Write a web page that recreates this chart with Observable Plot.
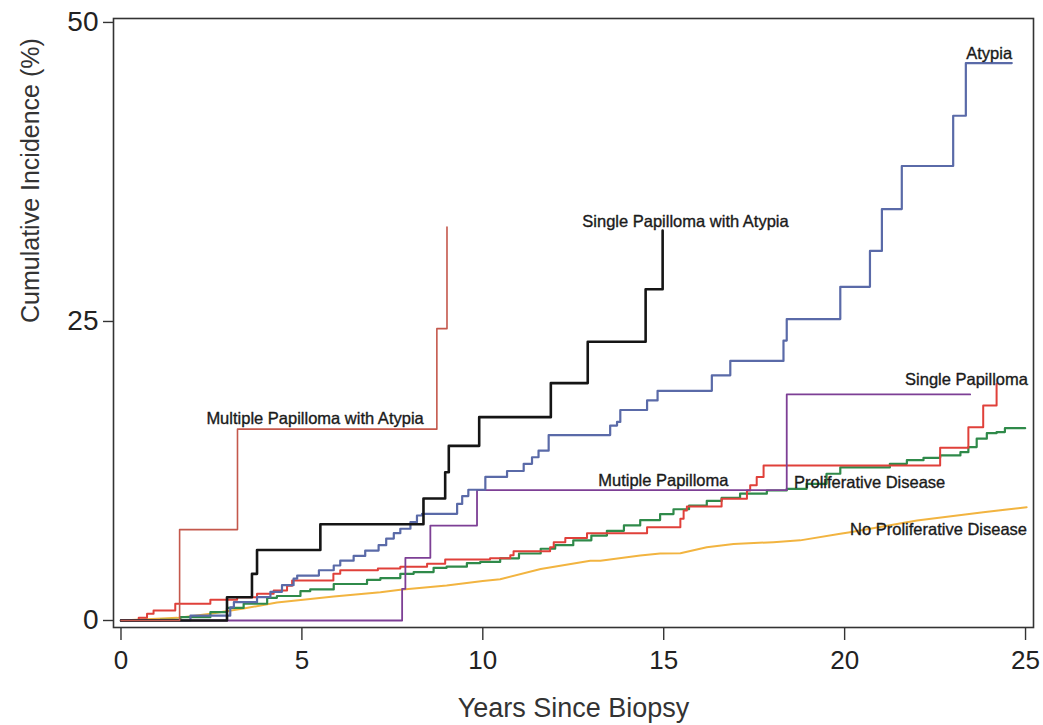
<!DOCTYPE html>
<html>
<head>
<meta charset="utf-8">
<script src="https://cdn.jsdelivr.net/npm/d3@7"></script>
<script src="https://cdn.jsdelivr.net/npm/@observablehq/plot@0.6"></script>
<style>
  html, body { margin: 0; padding: 0; background: #fff; }
  #chart svg { display: block; }
</style>
</head>
<body>
<div id="chart"></div>
<script>
// ---- Data (years since biopsy, cumulative incidence %) ----
const xTicks = [0, 5, 10, 15, 20, 25];
const yTicks = [0, 25, 50];

const mpwaYears = [0, 1.62, 3.22, 8.73, 9.01];
const mpwaPct   = [0, 7.6, 16.0, 24.4, 32.9];

const spwaYears = [0, 2.93, 3.62, 3.76, 5.51, 8.36, 8.96, 9.06, 9.9, 11.88, 12.9, 14.5, 14.97];
const spwaPct   = [0, 1.95, 3.9, 5.9, 8.05, 10.2, 12.4, 14.6, 17.0, 19.85, 23.3, 27.7, 32.6];

const atypiaYears = [0, 1.92, 3.02, 3.12, 3.76, 4.13, 4.45, 4.77, 4.87, 5.47, 5.88, 6.06, 6.43, 6.75, 7.12, 7.33, 7.54, 7.72, 8.0, 8.18, 8.32, 9.29, 9.43, 9.6, 10.07, 10.67, 11.13, 11.36, 11.54, 11.82, 13.52, 13.71, 13.8, 14.54, 14.83, 16.33, 16.84, 18.31, 18.4, 19.88, 20.7, 21.03, 21.58, 23.0, 23.35, 24.62];
const atypiaPct   = [0, 0.4, 1.1, 1.53, 1.95, 2.4, 2.95, 3.5, 3.76, 4.2, 4.6, 5.0, 5.4, 5.85, 6.3, 6.85, 7.3, 7.67, 8.22, 8.78, 8.92, 9.75, 10.4, 10.93, 12.0, 12.5, 13.1, 13.65, 14.2, 15.5, 16.3, 16.6, 17.6, 18.4, 19.2, 20.5, 21.7, 23.4, 25.2, 27.9, 30.9, 34.4, 38.0, 42.2, 46.6, 46.6];

const spYears = [0, 0.49, 0.72, 0.9, 1.5, 2.47, 3.21, 3.76, 4.22, 4.59, 4.73, 5.87, 6.06, 7.1, 7.72, 8.46, 8.96, 10.2, 10.76, 10.85, 11.86, 11.96, 12.28, 12.88, 14.54, 15.46, 15.55, 15.64, 16.6, 17.3, 17.39, 17.57, 17.76, 22.64, 23.42, 23.83, 24.2];
const spPct   = [0, 0.22, 0.56, 0.84, 1.4, 1.73, 1.95, 2.23, 2.5, 2.9, 3.35, 3.9, 4.2, 4.35, 4.5, 4.74, 5.1, 5.2, 5.45, 5.8, 6.13, 6.55, 6.9, 7.3, 7.8, 8.5, 9.2, 9.53, 10.17, 10.87, 11.3, 12.0, 12.96, 14.44, 16.16, 17.98, 19.8];

const mpYears = [0, 7.77, 7.86, 8.55, 9.84, 18.4, 23.47];
const mpPct   = [0, 2.65, 5.24, 7.94, 10.9, 18.9, 18.9];

const pdYears = [0, 1.09, 1.64, 2.47, 2.93, 3.39, 4.04, 4.31, 4.96, 5.23, 5.88, 6.8, 7.17, 7.72, 8.09, 8.64, 9.0, 9.56, 9.93, 10.48, 11.0, 11.6, 12.0, 12.5, 13.0, 13.43, 13.9, 14.35, 14.9, 15.27, 15.7, 16.19, 16.6, 17.11, 17.85, 18.4, 18.95, 19.5, 19.88, 20.65, 21.25, 21.72, 22.18, 22.64, 23.2, 23.42, 23.65, 23.93, 24.2, 24.43, 24.99];
const pdPct   = [0, 0.05, 0.28, 0.7, 1.05, 1.4, 1.9, 2.05, 2.45, 2.6, 3.05, 3.4, 3.55, 3.9, 4.05, 4.4, 4.5, 4.8, 4.9, 5.2, 5.6, 6.0, 6.3, 6.7, 7.1, 7.5, 7.95, 8.4, 8.9, 9.3, 9.6, 10.0, 10.25, 10.6, 10.87, 11.0, 11.43, 12.27, 12.8, 12.8, 13.1, 13.4, 13.6, 13.8, 14.07, 14.5, 15.2, 15.66, 15.75, 16.08, 16.08];

const npdYears = [0, 1.55, 2.47, 3.39, 4.31, 5.23, 5.88, 7.17, 7.72, 9.0, 10.0, 10.48, 11.6, 12.97, 13.25, 14.35, 14.9, 15.46, 16.19, 16.93, 18.03, 18.77, 19.88, 20.15, 22.0, 23.83, 25.03];
const npdPct   = [0, 0.22, 0.56, 1.0, 1.5, 1.8, 2.0, 2.37, 2.57, 2.93, 3.3, 3.45, 4.3, 5.0, 5.0, 5.43, 5.6, 5.63, 6.13, 6.4, 6.55, 6.7, 7.25, 7.38, 8.36, 9.06, 9.47];

const labelNames = ["Atypia", "Single Papilloma with Atypia", "Multiple Papilloma with Atypia", "Single Papilloma", "Mutiple Papilloma", "Proliferative Disease", "No Proliferative Disease"];
const labelX = [23.36, 12.75, 2.36, 21.67, 13.19, 18.6, 20.15];
const labelY = [47.4, 33.36, 16.9, 20.15, 11.7, 11.5, 7.6];

// ---- Build marks ----
const seriesDefs = [
  {years: npdYears, pct: npdPct, color: "#f2b440", width: 2.0, curve: "linear"},
  {years: pdYears, pct: pdPct, color: "#2f8a4a", width: 2.2, curve: "step-after"},
  {years: spYears, pct: spPct, color: "#e0403a", width: 2.0, curve: "step-after"},
  {years: mpYears, pct: mpPct, color: "#7d3f95", width: 1.8, curve: "step-after"},
  {years: atypiaYears, pct: atypiaPct, color: "#5a6aa8", width: 2.2, curve: "step-after"},
  {years: spwaYears, pct: spwaPct, color: "#151515", width: 2.6, curve: "step-after"},
  {years: mpwaYears, pct: mpwaPct, color: "#c4584c", width: 1.6, curve: "step-after"}
];
const seriesMarks = seriesDefs.map(s => {
  const rows = s.years.map((t, i) => ({year: t, pct: s.pct[i]}));
  return Plot.line(rows, {x: "year", y: "pct", curve: s.curve, stroke: s.color, strokeWidth: s.width});
});
const labels = labelNames.map((n, i) => ({name: n, x: labelX[i], y: labelY[i]}));

const regular = "'Liberation Sans', Arial, Helvetica, sans-serif";

const chart = Plot.plot({
  width: 1043,
  height: 725,
  marginLeft: 113,
  marginRight: 10,
  marginTop: 18,
  marginBottom: 98,
  style: {background: "#fff", fontFamily: regular, color: "#222"},
  x: {domain: [-0.207, 25.22]},
  y: {domain: [-0.585, 50.33]},
  marks: [
    ...seriesMarks,
    Plot.frame({stroke: "#333", strokeWidth: 1.6}),
    Plot.axisX({ticks: xTicks, tickSize: 13, tickPadding: 10, fontSize: 26, label: null, stroke: "#333", strokeWidth: 1.4, tickFormat: d => d}),
    Plot.axisY({ticks: yTicks, tickSize: 10, tickPadding: 5, fontSize: 28, label: null, stroke: "#333", strokeWidth: 1.4, tickFormat: d => d}),
    Plot.text(labels, {x: "x", y: "y", text: "name", textAnchor: "start", fontSize: 16.5, fill: "#1a1a1a", stroke: "#1a1a1a", strokeWidth: 0.35}),
    Plot.text(["Years Since Biopsy"], {frameAnchor: "bottom", dy: 89, fontSize: 27, fill: "#333"}),
    Plot.text(["Cumulative Incidence (%)"], {frameAnchor: "left", dx: -83, rotate: -90, fontSize: 25, fill: "#333"})
  ]
});
document.getElementById("chart").appendChild(chart);
</script>
</body>
</html>
